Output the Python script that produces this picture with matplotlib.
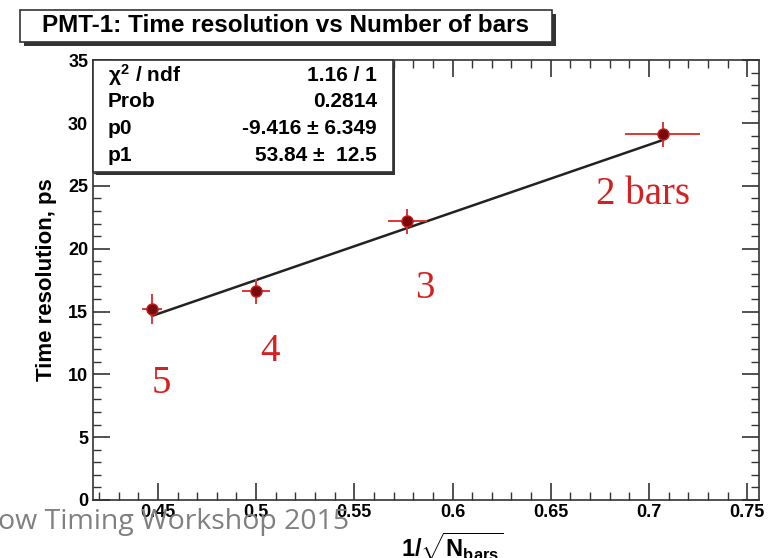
import numpy as np
import matplotlib
matplotlib.use("Agg")
import matplotlib.pyplot as plt
from matplotlib.patches import Rectangle
from matplotlib.ticker import MultipleLocator

# ---- data ----
n_bars = [5, 4, 3, 2]
x_vals = [0.447, 0.500, 0.577, 0.707]
y_vals = [15.2, 16.6, 22.2, 29.1]
x_err = [0.005, 0.007, 0.010, 0.019]
y_err = [1.2, 1.0, 1.0, 1.0]
p0, p1 = -9.416, 53.84
label_texts = ["5", "4", "3", "2 bars"]
label_x = [0.452, 0.507, 0.586, 0.697]
label_y = [9.3, 11.8, 16.8, 24.3]
stat_names = [r"$\chi^2$ / ndf", "Prob", "p0", "p1"]
stat_vals = ["1.16 / 1", "0.2814", "-9.416 \u00b1 6.349", "53.84 \u00b1  12.5"]
x_ticks = [0.45, 0.5, 0.55, 0.6, 0.65, 0.7, 0.75]
y_ticks = [0, 5, 10, 15, 20, 25, 30, 35]

plt.rcParams['font.family'] = ['Liberation Sans', 'DejaVu Sans']
plt.rcParams['mathtext.fontset'] = 'custom'
plt.rcParams['mathtext.rm'] = 'Liberation Sans:bold'
plt.rcParams['mathtext.it'] = 'Liberation Sans:bold'
plt.rcParams['mathtext.bf'] = 'Liberation Sans:bold'

fig = plt.figure(figsize=(7.69, 5.58), dpi=100)
ax = fig.add_axes([0.121, 0.104, 0.866, 0.788])
ax.set_xlim(0.417, 0.756)
ax.set_ylim(0, 35)

ax.xaxis.set_major_locator(MultipleLocator(0.05))
ax.xaxis.set_minor_locator(MultipleLocator(0.01))
ax.yaxis.set_major_locator(MultipleLocator(5))
ax.yaxis.set_minor_locator(MultipleLocator(1))
ax.set_xticks(x_ticks)
ax.set_yticks(y_ticks)
ax.set_xticklabels([f"{t:g}" for t in x_ticks], fontweight='bold', fontsize=13)
ax.set_yticklabels([str(t) for t in y_ticks], fontweight='bold', fontsize=13)
ax.tick_params(which='both', direction='in', top=True, right=True, color='#333333')
ax.tick_params(which='major', length=12, width=1.2)
ax.tick_params(which='minor', length=6, width=1.0)
ax.tick_params(axis='x', pad=3)
for s in ax.spines.values():
    s.set_linewidth(1.2)
    s.set_color('#333333')

# fit line
xf = np.linspace(min(x_vals), max(x_vals), 50)
ax.plot(xf, p0 + p1 * xf, color='#222222', lw=1.8, zorder=3)

# points
ax.errorbar(x_vals, y_vals, xerr=x_err, yerr=y_err, fmt='o', color='#e03535',
            ecolor='#e03535', elinewidth=1.4, capsize=0, ms=8,
            mfc='#7a0a0a', mec='#c02020', zorder=4)

for t, lx, ly in zip(label_texts, label_x, label_y):
    ax.text(lx, ly, t, color='#d42020', fontsize=28, family='Liberation Serif',
            ha='center', va='center')

ax.set_ylabel("Time resolution, ps", fontsize=16, fontweight='bold', labelpad=8)

# stat box
bx0, bx1, by0, by1 = 0.0, 0.45, 0.745, 1.0
ax.add_patch(Rectangle((bx0 + 0.004, by0 - 0.006), bx1 - bx0, by1 - by0, transform=ax.transAxes,
                       facecolor='#333333', edgecolor='none', zorder=5, clip_on=False))
ax.add_patch(Rectangle((bx0, by0), bx1 - bx0, by1 - by0, transform=ax.transAxes,
                       facecolor='white', edgecolor='#333333', lw=1.2, zorder=6, clip_on=False))
row_y = [0.966, 0.907, 0.845, 0.784]
for name, val, ry in zip(stat_names, stat_vals, row_y):
    ax.text(0.022, ry, name, transform=ax.transAxes, fontsize=15, fontweight='bold',
            ha='left', va='center', zorder=7)
    ax.text(0.426, ry, val, transform=ax.transAxes, fontsize=15, fontweight='bold',
            ha='right', va='center', zorder=7)

# title box
tx0, tx1, ty0, ty1 = 20 / 769, 552 / 769, 1 - 42 / 558, 1 - 10 / 558
fig.add_artist(Rectangle((tx0 + 0.005, ty0 - 0.008), tx1 - tx0, ty1 - ty0, transform=fig.transFigure,
                         facecolor='#333333', edgecolor='none'))
fig.add_artist(Rectangle((tx0, ty0), tx1 - tx0, ty1 - ty0, transform=fig.transFigure,
                         facecolor='white', edgecolor='#333333', lw=1.2))
fig.text((tx0 + tx1) / 2, (ty0 + ty1) / 2, "PMT-1: Time resolution vs Number of bars",
         fontsize=17.5, fontweight='bold', ha='center', va='center')

# x label (cut at bottom)
fig.text(452 / 769, 1 - 547 / 558, r"1/$\sqrt{N_{bars}}$", fontsize=17, fontweight='bold',
         ha='center', va='center')

# overlay text
fig.text(-0.002, 1 - 522 / 558, "ow Timing Workshop 2015", fontsize=20.5, color='#808080',
         family=['Open Sans', 'DejaVu Sans'], ha='left', va='center', zorder=10)

fig.savefig("out.png", dpi=100)
